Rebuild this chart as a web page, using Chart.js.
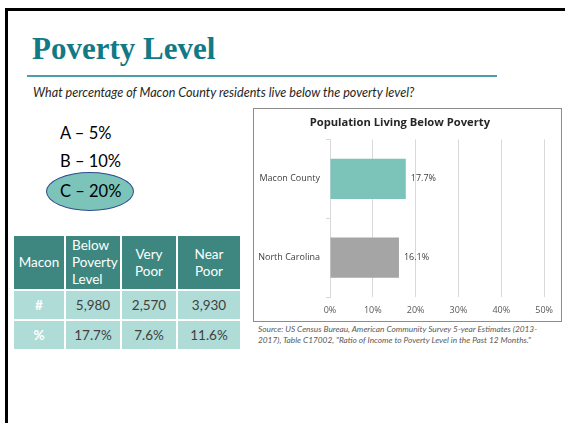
<!DOCTYPE html>
<html><head><meta charset="utf-8">
<script src="https://cdn.jsdelivr.net/npm/chart.js@4"></script>
<style>
html,body{margin:0;padding:0;background:#fff;width:565px;height:423px;overflow:hidden;font-family:Lato,"Open Sans",sans-serif;}
#slide{position:absolute;left:5px;top:8px;width:600px;height:500px;border-left:3px solid #000;border-top:3px solid #000;}
.abs{position:absolute;white-space:nowrap;}
#title{left:32px;top:30px;font-family:"Liberation Serif",serif;font-weight:bold;font-size:31px;color:#127a85;line-height:38px;}
#rule{left:27px;top:75px;width:470px;height:1.6px;background:#4c9ea7;}
#subtitle{left:33px;top:85px;font-style:italic;font-size:12.6px;color:#262626;line-height:16px;}
.ans{left:60px;font-size:16.5px;color:#000;line-height:20px;}
#ellipse{left:46px;top:172px;width:86px;height:37px;border-radius:50%;background:#7cc3b9;border:1.5px solid #2e4d8e;}
#tbl{position:absolute;left:12px;top:236px;width:228px;table-layout:fixed;border-collapse:collapse;font-size:13.5px;}
#tbl td,#tbl th{padding:0;text-align:center;border:2px solid #fff;}
#tbl tr:first-child th{border-top:none;}
#tbl th{background:#3d8780;color:#fff;font-weight:normal;height:53px;line-height:17px;}
#tbl td{background:#b0dcd7;color:#404040;height:28px;}
#tbl td.rl{color:#fff;font-weight:bold;}
#box{position:absolute;left:253px;top:108px;width:307px;height:212px;border:1px solid #8c8c8c;}
#source{left:258px;top:324px;font-style:italic;font-size:8.3px;color:#595959;line-height:11px;}
</style></head>
<body>
<div id="slide"></div>
<div id="title" class="abs">Poverty Level</div>
<div id="rule" class="abs"></div>
<div id="subtitle" class="abs">What percentage of Macon County residents live below the poverty level?</div>
<div id="ellipse" class="abs"></div>
<div id="answers"></div>
<table id="tbl"></table>
<div id="box"><canvas id="c" width="307" height="212"></canvas></div>
<div id="source" class="abs">Source: US Census Bureau, American Community Survey 5-year Estimates (2013-<br>2017), Table C17002, "Ratio of Income to Poverty Level in the Past 12 Months."</div>
<script>
// ---- data ----
const answerOptions = ['A \u2013 5%', 'B \u2013 10%', 'C \u2013 20%'];
const tableHeaders = [['Macon'], ['Below', 'Poverty', 'Level'], ['Very', 'Poor'], ['Near', 'Poor']];
const tableRowLabels = ['#', '%'];
const tableCounts = ['5,980', '2,570', '3,930'];
const tablePercents = ['17.7%', '7.6%', '11.6%'];
const categories = ['Macon County', 'North Carolina'];
const belowPovertyPct = [17.7, 16.1];
const xTickValues = [0, 10, 20, 30, 40, 50];
const chartTitle = 'Population Living Below Poverty';

// ---- answers ----
const answerTops = [123, 151, 181];
const ansBox = document.getElementById('answers');
answerOptions.forEach((t, i) => {
  const d = document.createElement('div');
  d.className = 'abs ans'; d.style.top = answerTops[i] + 'px'; d.textContent = t;
  ansBox.appendChild(d);
});

// ---- table ----
const tbl = document.getElementById('tbl');
const colW = [52, 56, 56, 64];
let hr = '<colgroup>' + colW.map(w => '<col style="width:' + w + 'px">').join('') + '</colgroup>';
hr += '<tr>' + tableHeaders.map((h, i) => '<th' + (i === 1 ? ' style="text-align:left;padding-left:6px"' : '') + '>' + h.join('<br>') + '</th>').join('') + '</tr>';
const rows = [tableCounts, tablePercents];
rows.forEach((r, i) => {
  hr += '<tr><td class="rl">' + tableRowLabels[i] + '</td>' + r.map(v => '<td>' + v + '</td>').join('') + '</tr>';
});
tbl.innerHTML = hr;

// ---- chart ----
const valueLabels = {
  id: 'valueLabels',
  afterDatasetsDraw(chart) {
    const ctx = chart.ctx;
    const meta = chart.getDatasetMeta(0);
    ctx.save();
    ctx.font = '9px "Open Sans", sans-serif';
    ctx.fillStyle = '#404040';
    ctx.textAlign = 'left';
    ctx.textBaseline = 'middle';
    meta.data.forEach((bar, i) => {
      ctx.fillText(chart.data.datasets[0].data[i].toFixed(1) + '%', bar.x + 5, bar.y);
    });
    ctx.restore();
  }
};

new Chart(document.getElementById('c'), {
  type: 'bar',
  data: {
    labels: categories,
    datasets: [{
      data: belowPovertyPct,
      backgroundColor: ['#7cc3b9', '#a5a5a5'],
      barPercentage: 1,
      categoryPercentage: 0.51
    }]
  },
  options: {
    indexAxis: 'y',
    responsive: false,
    animation: false,
    devicePixelRatio: 1,
    layout: { padding: { left: 0, right: 15.3, top: 0, bottom: 0 } },
    plugins: {
      legend: { display: false },
      tooltip: { enabled: false },
      title: {
        display: true, text: chartTitle, color: '#262626',
        font: { family: '"Open Sans", sans-serif', size: 11.2, weight: 'bold' },
        padding: { top: 7, bottom: 10 }
      }
    },
    scales: {
      x: {
        min: 0, max: 50,
        afterBuildTicks: s => { s.ticks = xTickValues.map(v => ({ value: v })); },
        afterFit: s => { s.height = 24; },
        grid: { color: '#d9d9d9', drawTicks: false },
        border: { display: false },
        ticks: { padding: 8, color: '#595959', font: { family: '"Open Sans", sans-serif', size: 9 }, callback: v => v + '%' }
      },
      y: {
        afterFit: s => { s.width = 76; },
        grid: { drawOnChartArea: false, tickLength: 4, color: '#d9d9d9' },
        border: { color: '#d9d9d9' },
        ticks: { padding: 6, color: '#404040', font: { family: '"Open Sans", sans-serif', size: 9 } }
      }
    }
  },
  plugins: [valueLabels]
});
</script>
</body></html>
